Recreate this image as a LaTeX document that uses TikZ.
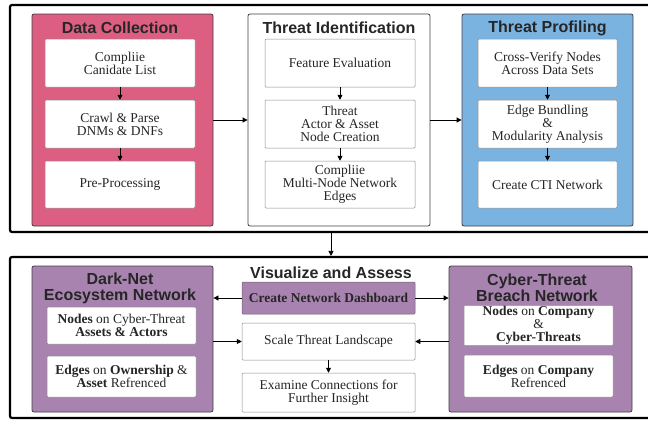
\documentclass[tikz,border=0pt]{standalone}
\usepackage{fontspec}
\setmainfont{Liberation Serif}
\newfontfamily\headfont{Liberation Sans}
\usetikzlibrary{arrows.meta}
\definecolor{dcpink}{RGB}{220,95,130}
\definecolor{tpblue}{RGB}{123,179,224}
\definecolor{vapurple}{RGB}{169,131,176}
\tikzstyle{outer frame}=[
        draw = black,
        line width = 2.2pt,
        rounded corners = 2pt
    ]
\tikzstyle{panel}=[
        draw = black!75,
        line width = 0.8pt,
        rounded corners = 2pt
    ]
\tikzstyle{step box}=[
        draw = black!45,
        fill = white,
        line width = 0.5pt,
        rounded corners = 1pt,
        align = center,
        inner sep = 1pt,
        text = black!85,
        font = \fontsize{13.5}{13}\selectfont
    ]
\tikzstyle{panel title}=[
        align = center,
        text = black!85,
        font = \headfont\bfseries\fontsize{16}{16}\selectfont
    ]

\begin{document}
\begin{tikzpicture}[x=1pt, y=-1pt, thick, >={Triangle[length=5pt, width=5pt]}]
        \useasboundingbox (0,0) rectangle (648,421);
        % upper stage
        \node[outer frame, minimum width=650pt, minimum height=227pt] (upper) at (335,118.5) {};
        \node[panel, fill=dcpink, minimum width=181pt, minimum height=212pt] (dc) at (122.5,120) {};
        \node[panel, fill=white, minimum width=182pt, minimum height=212pt] (ti) at (339,120) {};
        \node[panel, fill=tpblue, minimum width=171pt, minimum height=212pt] (tp) at (547.5,120) {};
        \node[panel title] (dctitle) at (120,28) {Data Collection};
        \node[panel title] (tititle) at (339,28) {Threat Identification};
        \node[panel title] (tptitle) at (547.5,28) {Threat Profiling};

        \node[step box, minimum width=150pt, minimum height=48pt] (dc1) at (120,63) {Compliie\\Canidate List};
        \node[step box, minimum width=150pt, minimum height=48pt] (dc2) at (120,124) {Crawl \& Parse\\DNMs \& DNFs};
        \node[step box, minimum width=150pt, minimum height=47pt] (dc3) at (120,184.5) {Pre-Processing};
        \node[step box, minimum width=150pt, minimum height=48pt] (ti1) at (340,63) {Feature Evaluation};
        \node[step box, minimum width=150pt, minimum height=48pt] (ti2) at (340,124) {Threat\\Actor \& Asset\\Node Creation};
        \node[step box, minimum width=150pt, minimum height=47pt] (ti3) at (340,184.5) {Compliie\\Multi-Node Network\\Edges};
        \node[step box, minimum width=139pt, minimum height=48pt] (tp1) at (547.5,63) {Cross-Verify Nodes\\Across Data Sets};
        \node[step box, minimum width=139pt, minimum height=48pt] (tp2) at (547.5,124) {Edge Bundling\\\&\\Modularity Analysis};
        \node[step box, minimum width=139pt, minimum height=47pt] (tp3) at (547.5,184.5) {Create CTI Network};

        \draw[->] (dc1) -- (dc2);
        \draw[->] (dc2) -- (dc3);
        \draw[->] (ti1) -- (ti2);
        \draw[->] (ti2) -- (ti3);
        \draw[->] (tp1) -- (tp2);
        \draw[->] (tp2) -- (tp3);
        \draw[->] (dc) -- (ti);
        \draw[->] (ti) -- (tp);

        % lower stage
        \node[outer frame, minimum width=650pt, minimum height=161pt] (lower) at (335,337.5) {};
        \node[panel, fill=vapurple, minimum width=181pt, minimum height=146pt] (dn) at (122.5,339) {};
        \node[panel, fill=vapurple, minimum width=183pt, minimum height=146pt] (cy) at (540.5,339) {};
        \node[panel title] (dntitle) at (120,288) {Dark-Net\\Ecosystem Network};
        \node[panel title] (cytitle) at (537,288) {Cyber-Threat\\Breach Network};
        \node[panel title] (vatitle) at (331,273) {Visualize and Assess};

        \node[step box, minimum width=149pt, minimum height=37pt] (dn1) at (121.5,325.5) {\textbf{Nodes} on Cyber-Threat\\\textbf{Assets \& Actors}};
        \node[step box, minimum width=149pt, minimum height=41pt] (dn2) at (121.5,376.5) {\textbf{Edges} on \textbf{Ownership} \&\\\textbf{Asset} Refrenced};
        \node[step box, minimum width=149pt, minimum height=37pt] (cy1) at (538.5,325.5) {\textbf{Nodes} on \textbf{Company}\\\&\\\textbf{Cyber-Threats}};
        \node[step box, minimum width=149pt, minimum height=42pt] (cy2) at (538.5,376) {\textbf{Edges} on \textbf{Company}\\Refrenced};

        \node[step box, fill=vapurple, draw=black!60, minimum width=173pt, minimum height=32pt] (dash) at (328.5,298) {\textbf{Create Network Dashboard}};
        \node[step box, minimum width=173pt, minimum height=37pt] (scale) at (328.5,341.5) {Scale Threat Landscape};
        \node[step box, minimum width=173pt, minimum height=39pt] (exam) at (328.5,392.5) {Examine Connections for\\Further Insight};

        \draw[->] (upper.south -| vatitle) -- (lower.north -| vatitle);
        \draw[->] (dash.west) -- (dash.west -| dn.east);
        \draw[->] (dash.east) -- (dash.east -| cy.west);
        \draw[->] (scale.east -| cy.west) -- (scale.east);
        \draw[->] (scale.west -| dn.east) -- (scale.west);
        \draw[->] (scale) -- (exam);
    \end{tikzpicture}
\end{document}
